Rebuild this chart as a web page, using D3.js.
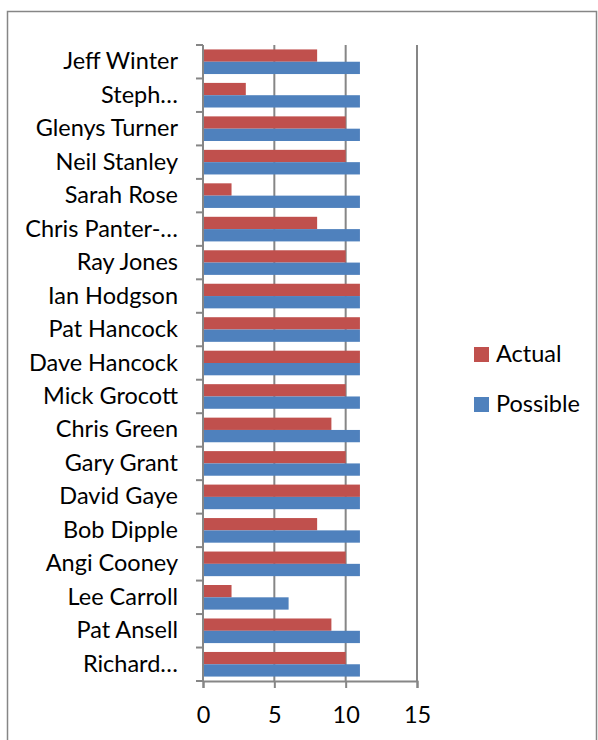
<!DOCTYPE html>
<html>
<head>
<meta charset="utf-8">
<script src="https://cdn.jsdelivr.net/npm/d3@7"></script>
<style>
  body { margin: 0; background: #fff; }
  text { font-family: Lato, Calibri, "Open Sans", sans-serif; fill: #000; }
</style>
</head>
<body>
<div id="chart"></div>
<script>
// Names top to bottom as shown
const names = ["Jeff Winter", "Steph\u2026", "Glenys Turner", "Neil Stanley", "Sarah Rose",
  "Chris Panter-\u2026", "Ray Jones", "Ian Hodgson", "Pat Hancock", "Dave Hancock",
  "Mick Grocott", "Chris Green", "Gary Grant", "David Gaye", "Bob Dipple",
  "Angi Cooney", "Lee Carroll", "Pat Ansell", "Richard\u2026"]
const actual = [8, 3, 10, 10, 2, 8, 10, 11, 11, 11, 10, 9, 10, 11, 8, 10, 2, 9, 10]
const possible = [11, 11, 11, 11, 11, 11, 11, 11, 11, 11, 11, 11, 11, 11, 11, 11, 6, 11, 11]
const seriesNames = ["Actual", "Possible"]
const xTicks = [0, 5, 10, 15]

const colors = {Actual: "#C0504D", Possible: "#4F81BD"}

const W = 598, H = 740
const margin = {top: 45, right: 181, bottom: 59, left: 203}
const width = W - margin.left - margin.right
const height = H - margin.top - margin.bottom
const fontSize = 23.5

const svg = d3.select("#chart").append("svg")
    .attr("width", W)
    .attr("height", H)

// outer chart border
svg.append("rect")
    .attr("x", 7.5).attr("y", 11.5)
    .attr("width", 589).attr("height", 740)
    .attr("fill", "none")
    .attr("stroke", "#868686")
    .attr("stroke-width", 1.5)

const g = svg.append("g")
    .attr("transform", "translate(" + margin.left + "," + margin.top + ")")

const x = d3.scaleLinear().domain([0, 15]).range([0, width])
const y = d3.scaleBand().domain(names).range([0, height])
const ySub = d3.scaleBand().domain(seriesNames).range([0, y.bandwidth()])
    .paddingOuter(0.36)

// gridlines
g.selectAll(".grid")
    .data(xTicks.slice(1))
    .enter().append("line")
    .attr("x1", d => x(d)).attr("x2", d => x(d))
    .attr("y1", 0).attr("y2", height)
    .attr("stroke", "#868686")
    .attr("stroke-width", 2)

// bars
const rows = names.map((n, i) => ({name: n, Actual: actual[i], Possible: possible[i]}))
seriesNames.forEach(s => {
  g.selectAll(".bar-" + s)
    .data(rows)
    .enter().append("rect")
    .attr("x", x(0))
    .attr("y", d => y(d.name) + ySub(s))
    .attr("width", d => x(d[s]) - x(0))
    .attr("height", ySub.bandwidth())
    .attr("fill", colors[s])
})

// y axis
const yAxis = g.append("g")
    .call(d3.axisLeft(y).tickSize(0).tickPadding(25))
yAxis.select(".domain").remove()
yAxis.selectAll("text").attr("font-size", fontSize)
g.selectAll(".ytick")
    .data(d3.range(names.length + 1))
    .enter().append("line")
    .attr("x1", -7).attr("x2", 0)
    .attr("y1", d => d * y.step()).attr("y2", d => d * y.step())
    .attr("stroke", "#868686").attr("stroke-width", 2)
g.append("line")
    .attr("x1", 0).attr("x2", 0).attr("y1", 0).attr("y2", height)
    .attr("stroke", "#868686").attr("stroke-width", 2)

// x axis
const xAxis = g.append("g")
    .attr("transform", "translate(0," + height + ")")
    .call(d3.axisBottom(x).tickValues(xTicks).tickSize(7).tickPadding(18))
xAxis.select(".domain").attr("stroke", "#868686").attr("stroke-width", 2)
xAxis.selectAll(".tick line").attr("stroke", "#868686").attr("stroke-width", 2)
xAxis.selectAll("text").attr("font-size", fontSize)

// legend
const legend = svg.append("g").attr("transform", "translate(474,347)")
seriesNames.forEach((s, i) => {
  legend.append("rect")
    .attr("x", 0).attr("y", i * 50)
    .attr("width", 15).attr("height", 15)
    .attr("fill", colors[s])
  legend.append("text")
    .attr("x", 22).attr("y", i * 50 + 15)
    .attr("font-size", fontSize)
    .text(s)
})
</script>
</body>
</html>
